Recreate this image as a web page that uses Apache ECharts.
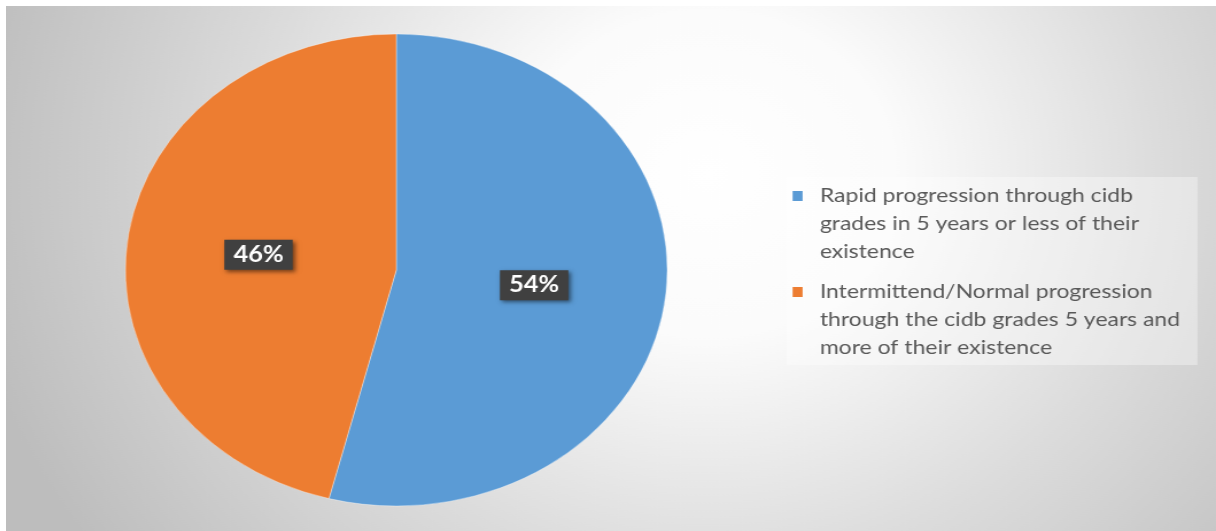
<!DOCTYPE html>
<html>
<head>
<meta charset="utf-8">
<script src="https://cdn.jsdelivr.net/npm/echarts@6/dist/echarts.min.js"></script>
<style>
  html, body { margin: 0; padding: 0; background: #fff; }
  .frame {
    position: absolute;
    left: 6px;
    top: 6px;
    width: 1210px;
    height: 525px;
    overflow: hidden;
  }
  /* the original picture is stretched sideways, so draw narrower and stretch */
  #chart {
    width: 1054px;
    height: 525px;
    transform: scaleX(1.148);
    transform-origin: 0 0;
  }
</style>
</head>
<body>
<div class="frame"><div id="chart"></div></div>
<script>
const categories = [
  'Rapid progression through cidb grades in 5 years or less of their existence',
  'Intermittend/Normal progression through the cidb grades 5 years and more of their existence'
];
const shares = [54, 46];
const colors = ['#5b9bd5', '#ed7d31'];

const chart = echarts.init(document.getElementById('chart'));

// legend icon: small square at the top of a tall item, so it sits on the first line
const topSquare = 'path://M0,9L8.7,9L8.7,19L0,19Z M0,0L0.01,0 M0,84L0.01,84';

const option = {
  animation: false,
  backgroundColor: {
    type: 'radial',
    x: 0.58,
    y: 0.32,
    r: 1.25,
    colorStops: [
      { offset: 0, color: '#ffffff' },
      { offset: 0.25, color: '#fbfbfb' },
      { offset: 0.6, color: '#dcdcdc' },
      { offset: 1, color: '#bdbdbd' }
    ]
  },
  legend: {
    orient: 'vertical',
    left: 680,
    top: 171,
    itemWidth: 8.7,
    itemHeight: 84,
    itemGap: 12,
    icon: topSquare,
    itemStyle: { borderWidth: 0 },
    padding: [5, 5, 3, 5.2],
    backgroundColor: 'rgba(255,255,255,0.35)',
    textStyle: {
      fontFamily: 'Lato',
      fontSize: 20,
      color: '#595959',
      lineHeight: 28,
      width: 324,
      overflow: 'break',
      padding: [0, 0, 0, 10]
    },
    data: categories
  },
  series: [{
    type: 'pie',
    center: [340, 264],
    radius: 236,
    startAngle: 90,
    clockwise: true,
    itemStyle: {
      borderColor: 'rgba(255,255,255,0.6)',
      borderWidth: 0.6
    },
    label: {
      show: true,
      position: 'inside',
      formatter: '{d}%',
      fontFamily: 'Lato',
      fontWeight: 'bold',
      fontSize: 22,
      color: '#fff',
      backgroundColor: '#404040',
      padding: [4, 8],
      shadowColor: 'rgba(0,0,0,0.5)',
      shadowBlur: 4,
      shadowOffsetX: 2,
      shadowOffsetY: 2
    },
    labelLine: { show: false },
    emphasis: { disabled: true },
    data: categories.map((name, i) => ({
      name: name,
      value: shares[i],
      itemStyle: { color: colors[i] }
    }))
  }]
};

chart.setOption(option);
</script>
</body>
</html>
